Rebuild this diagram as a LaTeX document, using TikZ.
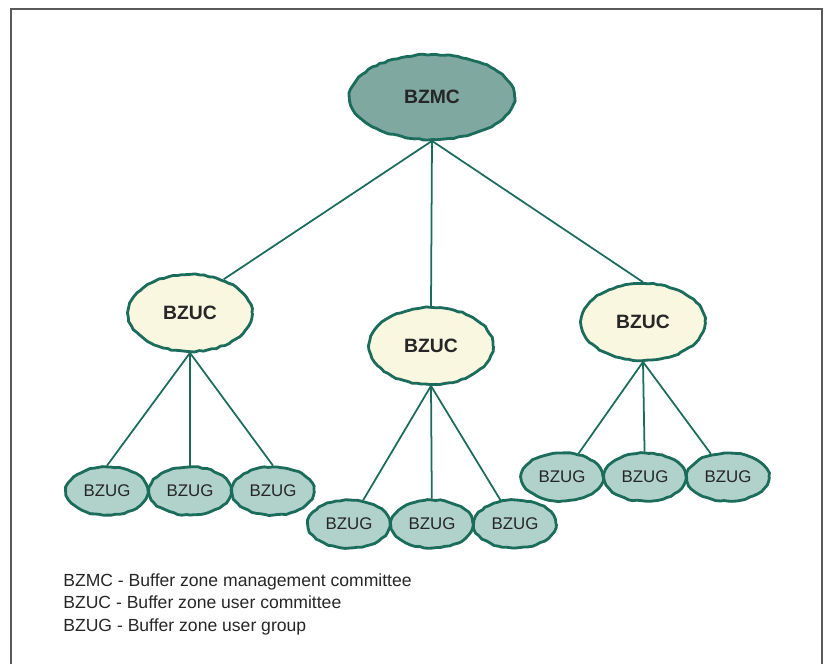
\documentclass[tikz,border=0pt]{standalone}
\usepackage{fontspec}
\setmainfont{Liberation Sans}
\usepackage{tikz}
\usetikzlibrary{shapes.geometric,decorations.pathmorphing}
\usepackage{xcolor}
\definecolor{ZoneTeal}{RGB}{28,108,92}
\definecolor{CommitteeFill}{RGB}{126,168,160}
\definecolor{UserFill}{RGB}{249,247,224}
\definecolor{GroupFill}{RGB}{176,210,202}
\definecolor{FrameGray}{RGB}{90,90,90}
\tikzset{
  zonebox/.style={draw=ZoneTeal,ellipse,line width=1.6pt,inner sep=0pt,
    align=center,text=black!85,
    decorate,decoration={random steps,segment length=2.5pt,amplitude=0.35pt}},
  mgmtbox/.style={zonebox,fill=CommitteeFill,minimum width=3.3cm,
    minimum height=1.7cm,font=\fontsize{11}{13}\selectfont\bfseries},
  userbox/.style={zonebox,fill=UserFill,minimum width=2.48cm,
    minimum height=1.54cm,font=\fontsize{11}{13}\selectfont\bfseries},
  groupbox/.style={zonebox,fill=GroupFill,minimum width=1.64cm,
    minimum height=0.96cm,font=\fontsize{9.6}{11}\selectfont},
  zoneline/.style={draw=ZoneTeal,line width=1pt},
}

\begin{document}
\begin{tikzpicture}[x=0.02cm,y=-0.02cm]
  \pgfmathsetseed{7}
  \useasboundingbox (0,0) rectangle (825,664);
  % frame
  \draw[FrameGray,line width=1.1pt] (11,664) -- (11,9) -- (822,9) -- (822,664);

  % committees
  \node[mgmtbox] (bzmc) at (432,97) {BZMC};
  \node[userbox] (ucl) at (190,313) {BZUC};
  \node[userbox] (ucm) at (431,346) {BZUC};
  \node[userbox] (ucr) at (643,322) {BZUC};

  % user groups
  \foreach \name/\x/\y in {gl1/107/491,gl2/190/491,gl3/273/491,
                          gm1/349/524,gm2/432/524,gm3/515/524,
                          gr1/562/477,gr2/645/477,gr3/728/477}
    \node[groupbox] (\name) at (\x,\y) {BZUG};

  % links
  \draw[zoneline] (bzmc.south) -- (ucl.45);
  \draw[zoneline] (bzmc.south) -- (ucm.north);
  \draw[zoneline] (bzmc.south) -- (ucr.north);
  \foreach \g in {gl1,gl2,gl3}
    \draw[zoneline] (ucl.south) -- (\g.north);
  \foreach \g in {gm1,gm2,gm3}
    \draw[zoneline] (ucm.south) -- (\g);
  \foreach \g in {gr1,gr2,gr3}
    \draw[zoneline] (ucr.south) -- (\g);

  % legend
  \node[anchor=north west,align=left,inner sep=0pt,text=black!85,
    font=\fontsize{10}{12.8}\selectfont] (legend) at (63,573)
    {BZMC - Buffer zone management committee\\
     BZUC - Buffer zone user committee\\
     BZUG - Buffer zone user group};
\end{tikzpicture}
\end{document}
